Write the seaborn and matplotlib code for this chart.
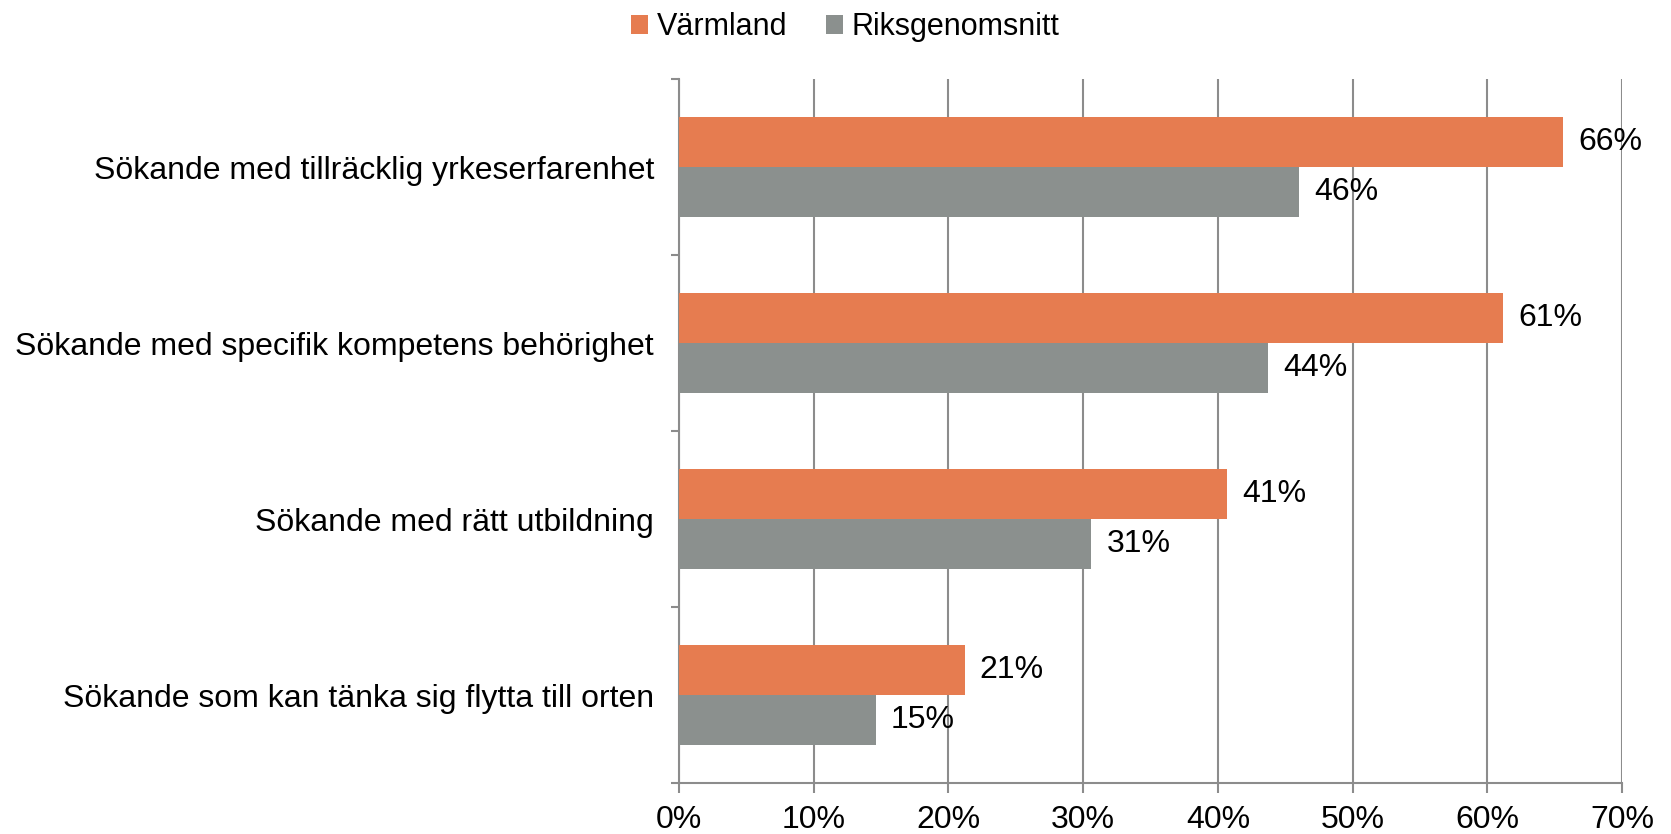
import matplotlib
matplotlib.use("Agg")
import matplotlib.pyplot as plt
import seaborn as sns
import pandas as pd
import numpy as np
from matplotlib.ticker import FixedLocator, PercentFormatter

categories = [
    "Sökande med tillräcklig yrkeserfarenhet",
    "Sökande med specifik kompetens behörighet",
    "Sökande med rätt utbildning",
    "Sökande som kan tänka sig flytta till orten",
]
series_names = ["Värmland", "Riksgenomsnitt"]
varmland = [65.6, 61.2, 40.7, 21.2]
riks = [46.0, 43.7, 30.6, 14.6]
x_ticks = [0, 10, 20, 30, 40, 50, 60, 70]

colors = ["#E67C50", "#8B908E"]
grid_color = "#8C8C8C"

df = pd.DataFrame({
    "category": categories * 2,
    "series": [series_names[0]] * 4 + [series_names[1]] * 4,
    "value": varmland + riks,
})

sns.set_theme(style="white")
plt.rcParams["font.family"] = ["Liberation Sans", "DejaVu Sans"]
plt.rcParams["text.color"] = "black"
plt.rcParams["xtick.color"] = "black"
plt.rcParams["ytick.color"] = "black"

fig = plt.figure(figsize=(16.71, 8.34), dpi=100)
ax = fig.add_axes([679 / 1671, 1 - 783 / 834, (1622 - 679) / 1671, (783 - 79) / 834])

sns.barplot(data=df, y="category", x="value", hue="series", orient="h",
            palette=colors, width=0.57, saturation=1, ax=ax, zorder=3,
            edgecolor="none", linewidth=0, legend=True)

ax.set_xlim(0, 70)
ax.set_ylim(3.5, -0.5)
ax.set_xlabel("")
ax.set_ylabel("")

ax.xaxis.set_major_locator(FixedLocator(x_ticks))
ax.xaxis.set_major_formatter(PercentFormatter(decimals=0))
ax.grid(axis="x", color=grid_color, linewidth=1.5, zorder=0)
ax.grid(axis="y", visible=False)
ax.set_axisbelow(True)

for s in ["top", "right"]:
    ax.spines[s].set_visible(False)
for s in ["left", "bottom"]:
    ax.spines[s].set_color(grid_color)
    ax.spines[s].set_linewidth(1.5)

ax.tick_params(axis="x", which="major", direction="out", length=7, width=1.5,
               color=grid_color, labelcolor="black", labelsize=23, pad=9, bottom=True)
ax.tick_params(axis="y", which="major", length=0, labelsize=23, pad=18,
               labelcolor="black")
ax.yaxis.set_minor_locator(FixedLocator([-0.5, 0.5, 1.5, 2.5, 3.5]))
ax.tick_params(axis="y", which="minor", direction="out", length=6, width=1.5,
               color=grid_color, left=True)

for cont in ax.containers:
    ax.bar_label(cont, labels=[f"{v:.0f}%" for v in cont.datavalues],
                 padding=11, fontsize=23, color="black")

leg = ax.get_legend()
handles = leg.legend_handles
leg.remove()
fig.legend(handles, series_names, loc="upper center", bbox_to_anchor=(0.506, 1.018),
           ncol=2, frameon=False, fontsize=22, handlelength=0.55, handleheight=0.55,
           handletextpad=0.3, columnspacing=1.25)

fig.savefig("out.png", dpi=100)
